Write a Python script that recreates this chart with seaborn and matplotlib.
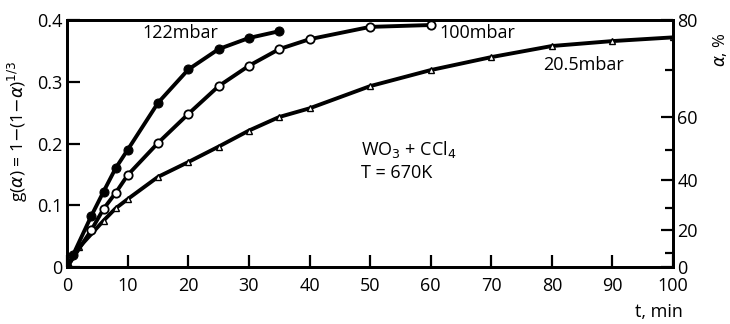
import pandas as pd
import matplotlib.pyplot as plt
import seaborn as sns

sns.set_style('ticks')
plt.rcParams['font.family'] = ['Open Sans', 'DejaVu Sans']
plt.rcParams['mathtext.fontset'] = 'dejavusans'
plt.rcParams['text.color'] = 'black'
plt.rcParams['axes.labelcolor'] = 'black'

# 데이터
t_122 = [0, 1, 4, 6, 8, 10, 15, 20, 25, 30, 35]
g_122 = [0, 0.02, 0.083, 0.122, 0.16, 0.19, 0.266, 0.32, 0.353, 0.371, 0.382]

t_100 = [0, 4, 6, 8, 10, 15, 20, 25, 30, 35, 40, 50, 60]
g_100 = [0, 0.06, 0.094, 0.12, 0.149, 0.201, 0.248, 0.293, 0.326, 0.353, 0.369, 0.389, 0.392]

t_205 = [0, 2, 6, 8, 10, 15, 20, 25, 30, 35, 40, 50, 60, 70, 80, 90, 100]
g_205 = [0, 0.032, 0.075, 0.095, 0.11, 0.146, 0.17, 0.195, 0.221, 0.243, 0.257, 0.293,
         0.319, 0.34, 0.358, 0.366, 0.372]

# 오른쪽 축 (alpha, %)
alpha_labels = ['0', '20', '40', '60', '80']
alpha_major_pos = [0, 0.060, 0.141, 0.243, 0.40]
alpha_minor_pos = [0.023, 0.096, 0.189, 0.319]

fig = plt.figure(figsize=(7.3, 3.24), dpi=100)
ax = fig.add_axes([0.092, 0.176, 0.83, 0.762])

lw = 2.8
sns.lineplot(x=t_205, y=g_205, ax=ax, color='black', linewidth=lw, marker='^',
             markersize=5, markerfacecolor='white', markeredgecolor='black', markeredgewidth=1.0)
sns.lineplot(x=t_100, y=g_100, ax=ax, color='black', linewidth=lw, marker='o',
             markersize=6, markerfacecolor='white', markeredgecolor='black', markeredgewidth=1.3)
sns.lineplot(x=t_122, y=g_122, ax=ax, color='black', linewidth=lw, marker='o',
             markersize=6.5, markerfacecolor='black', markeredgecolor='black')

ax.set_xlim(0, 100)
ax.set_ylim(0, 0.4)
ax.set_xticks(range(0, 101, 10))
ax.set_yticks([0, 0.1, 0.2, 0.3, 0.4])
ax.set_yticklabels(['0', '0.1', '0.2', '0.3', '0.4'])
ax.tick_params(direction='in', length=9, width=1.6, labelsize=13, colors='black')
ax.tick_params(axis='x', pad=7)
ax.tick_params(axis='y', left=True, right=False)
for s in ax.spines.values():
    s.set_linewidth(2)
    s.set_color('black')

ax.set_ylabel(r'g($\alpha$) = 1$-$(1$-\alpha$)$^{1/3}$', fontsize=12.5)
ax.yaxis.set_label_coords(-0.062, 0.55)
fig.text(0.935, 0.01, 't, min', fontsize=13, ha='right', va='bottom')

ax2 = ax.twinx()
ax2.set_ylim(0, 0.4)
ax2.set_yticks(alpha_major_pos)
ax2.set_yticklabels(alpha_labels)
ax2.set_yticks(alpha_minor_pos, minor=True)
ax2.tick_params(axis='y', which='major', direction='in', length=9, width=1.6, labelsize=13,
                pad=3, colors='black')
ax2.tick_params(axis='y', which='minor', direction='in', length=6, width=1.6, colors='black')
for s in ax2.spines.values():
    s.set_linewidth(2)
    s.set_color('black')
ax2.set_ylabel(r'$\alpha$, %', fontsize=12)
ax2.yaxis.set_label_coords(1.062, 0.88)

ax.text(12.5, 0.379, '122mbar', fontsize=13, va='center')
ax.text(61.5, 0.379, '100mbar', fontsize=13, va='center')
ax.text(78.5, 0.327, '20.5mbar', fontsize=13, va='center')
ax.text(48.5, 0.19, r'WO$_3$ + CCl$_4$', fontsize=13, va='center')
ax.text(48.5, 0.152, 'T = 670K', fontsize=13, va='center')

plt.savefig('out.png', dpi=100)
